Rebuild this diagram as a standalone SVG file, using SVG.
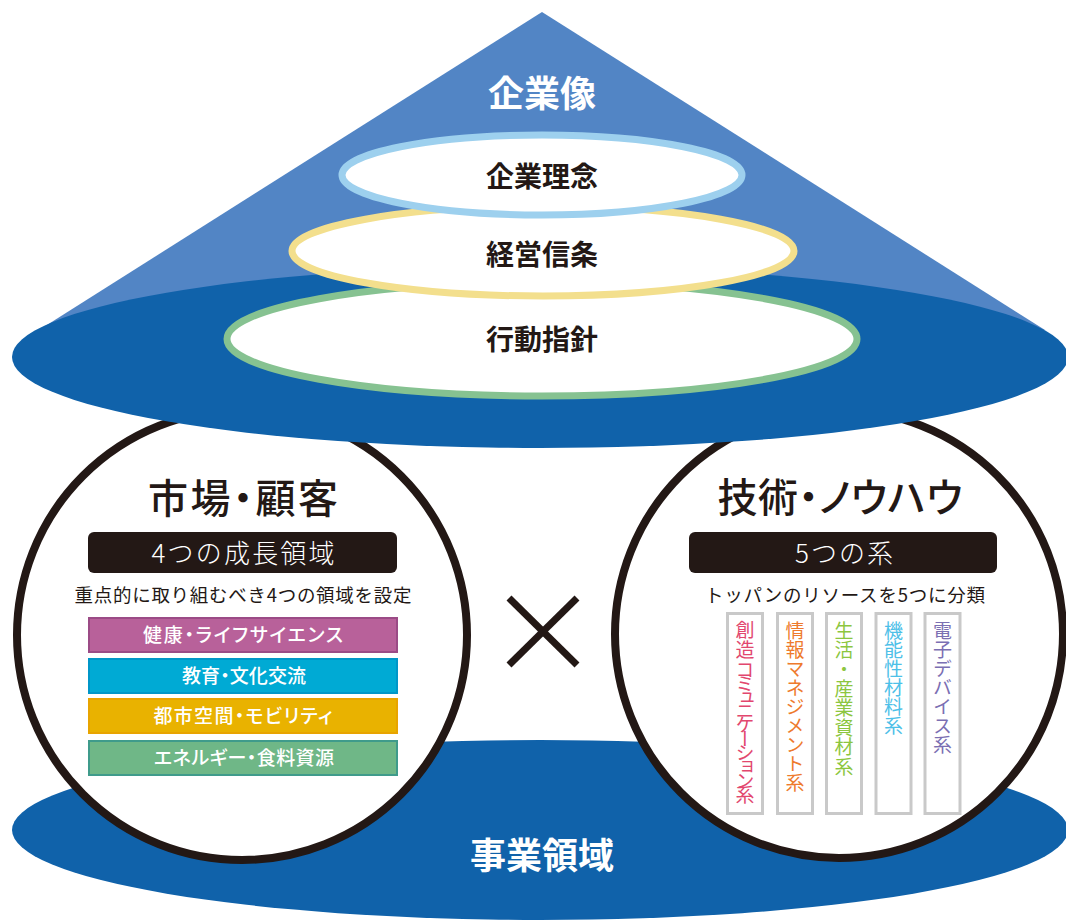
<svg xmlns="http://www.w3.org/2000/svg" width="1066" height="920" viewBox="0 0 1066 920">
<style>
text{font-family:"Noto Sans CJK JP","Noto Sans",sans-serif;}
.dark{fill:#231815;}
.white{fill:#ffffff;}
.c{text-anchor:middle;}
.p{font-feature-settings:"palt";}
.ell{fill:#ffffff;stroke-width:7;}
.circ{fill:#ffffff;stroke:#231815;stroke-width:8;}
.box{fill:#ffffff;stroke:#c9c9c9;stroke-width:3;}
.bar{stroke-width:2;}
.bartxt{fill:#ffffff;font-size:19px;font-weight:500;text-anchor:middle;font-feature-settings:"palt";}
.vt{writing-mode:vertical-rl;font-size:19px;letter-spacing:0px;}
.cross{stroke:#231815;stroke-width:7;stroke-linecap:butt;}
</style>

<g id="business-domain">
<ellipse cx="540" cy="830" rx="528" ry="90" fill="#1062aa"/>
<text x="542" y="869" class="white c" font-size="36" font-weight="700">事業領域</text>
</g>

<g id="market-customer">
<circle cx="242" cy="635" r="225" class="circ"/>
<text x="243" y="513" class="dark c p" font-size="40" font-weight="500" textLength="190" lengthAdjust="spacing">市場・顧客</text>
<rect x="88" y="532" width="309" height="41" rx="6" fill="#231815"/>
<text x="243" y="562.5" class="white c" font-size="26" font-weight="300" textLength="183" lengthAdjust="spacing">4つの成長領域</text>
<text x="243" y="602" class="dark c" font-size="18.5" textLength="337" lengthAdjust="spacing">重点的に取り組むべき4つの領域を設定</text>
<rect x="89" y="618" width="308" height="34" class="bar" fill="#b8619a" stroke="#9b4b86"/>
<text x="243" y="641.7" class="bartxt" textLength="200" lengthAdjust="spacing">健康・ライフサイエンス</text>
<rect x="89" y="659" width="308" height="34" class="bar" fill="#00aad4" stroke="#0096c8"/>
<text x="244" y="683" class="bartxt" textLength="124" lengthAdjust="spacing">教育・文化交流</text>
<rect x="89" y="699" width="308" height="34" class="bar" fill="#e9b200" stroke="#e8a400"/>
<text x="243" y="723" class="bartxt" textLength="179" lengthAdjust="spacing">都市空間・モビリティ</text>
<rect x="89" y="741" width="308" height="34" class="bar" fill="#6fb787" stroke="#3f9b8b"/>
<text x="244" y="765" class="bartxt" textLength="180" lengthAdjust="spacing">エネルギー・食料資源</text>
</g>

<g id="times">
<line x1="509" y1="598" x2="577" y2="665" class="cross"/>
<line x1="577" y1="598" x2="509" y2="665" class="cross"/>
</g>

<g id="technology-knowhow">
<circle cx="839" cy="634" r="224" class="circ"/>
<text x="840" y="512" class="dark c p" font-size="40" font-weight="500" textLength="245" lengthAdjust="spacing">技術・ノウハウ</text>
<rect x="689" y="532" width="308" height="41" rx="6" fill="#231815"/>
<text x="844" y="563" class="white c" font-size="26" font-weight="300" textLength="98" lengthAdjust="spacing">5つの系</text>
<text x="845" y="602" class="dark c" font-size="18.5" textLength="280" lengthAdjust="spacing">トッパンのリソースを5つに分類</text>
<rect x="727.5" y="613.5" width="35" height="200" class="box"/>
<rect x="777.5" y="613.5" width="35" height="200" class="box"/>
<rect x="826.5" y="613.5" width="35" height="200" class="box"/>
<rect x="876" y="613.5" width="35" height="200" class="box"/>
<rect x="925" y="613.5" width="35" height="200" class="box"/>
<text x="745" y="620" class="vt" fill="#e2476e" style="letter-spacing:1px">創造<tspan y="660" style="letter-spacing:-5.1px">コミュニケーション</tspan><tspan y="785" style="letter-spacing:0">系</tspan></text>
<text x="795" y="621" class="vt" fill="#ee7a2c">情報マネジメント系</text>
<text x="844" y="621" class="vt" fill="#8cc63f" style="letter-spacing:0.4px">生活・産業資材系</text>
<text x="893.5" y="621" class="vt" fill="#4dc0e8">機能性材料系</text>
<text x="942.5" y="621" class="vt" fill="#7b6fb3">電子デバイス系</text>
</g>

<g id="corporate-image">
<polygon points="542,12 39,330 1045,330" fill="#5285c5"/>
<ellipse cx="540" cy="357" rx="528" ry="91" fill="#1062aa"/>
<text x="542" y="106.7" class="white c" font-size="36" font-weight="700">企業像</text>
</g>

<g id="action-guidelines">
<ellipse cx="542" cy="339" rx="315" ry="57" class="ell" stroke="#86c291"/>
<text x="542" y="350" class="dark c" font-size="28" font-weight="700">行動指針</text>
</g>

<g id="management-creed">
<ellipse cx="543" cy="251" rx="251" ry="45" class="ell" stroke="#f3df8d"/>
<text x="542" y="265" class="dark c" font-size="28" font-weight="700">経営信条</text>
</g>

<g id="corporate-philosophy">
<ellipse cx="542" cy="175" rx="200" ry="40" class="ell" stroke="#9dd0ee"/>
<text x="542" y="187" class="dark c" font-size="28" font-weight="700">企業理念</text>
</g>

<g id="connectors"></g>
</svg>
